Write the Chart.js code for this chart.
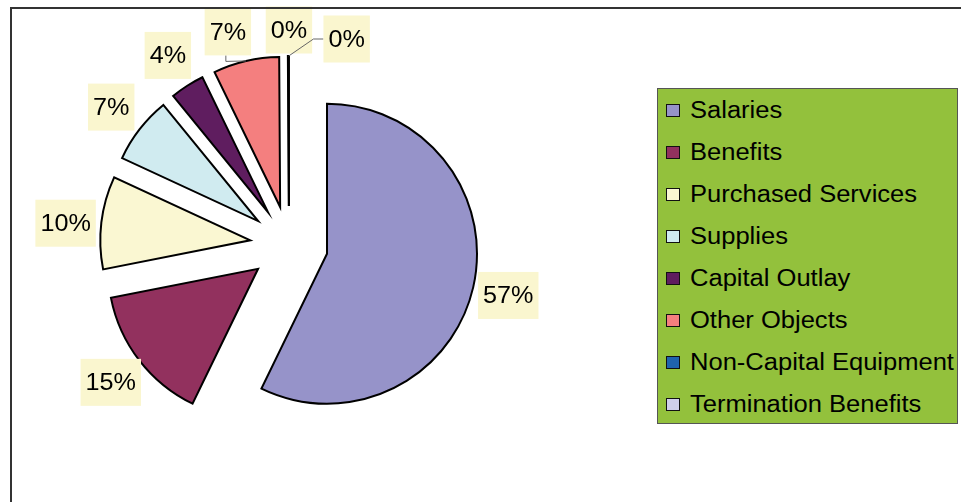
<!DOCTYPE html>
<html>
<head>
<meta charset="utf-8">
<title>Expenditures by Object</title>
<script src="https://cdn.jsdelivr.net/npm/chart.js@4.4.1/dist/chart.umd.min.js"></script>
<style>
  html, body { margin: 0; padding: 0; background: #fff; overflow: hidden; }
  #wrap { position: absolute; left: 0; top: 0; width: 961px; height: 502px; }
  #frame { position: absolute; left: 10px; top: 7px; width: 1000px; height: 600px;
           border-left: 2px solid #333; border-top: 2px solid #333; pointer-events: none; }
  #legend { position: absolute; left: 657px; top: 88px; width: 299px; height: 334px;
            background: #93C13C; border: 1px solid #555; }
  #legend .item { height: 42px; display: flex; align-items: center; }
  #legend .box { width: 12px; height: 11px; border: 1px solid #111; margin-left: 8px; margin-right: 10px; flex: none; }
  #legend .text { font: 23px "Liberation Sans", Arial, sans-serif; color: #000; display: inline-block;
                  transform: scaleX(1.11); transform-origin: left center; white-space: nowrap; }
</style>
</head>
<body>
<div id="wrap"><canvas id="objectPie" width="961" height="502"></canvas></div>
<div id="frame"></div>
<div id="legend"></div>
<script>
const categories = ['Salaries', 'Benefits', 'Purchased Services', 'Supplies', 'Capital Outlay',
                    'Other Objects', 'Non-Capital Equipment', 'Termination Benefits'];
const shares = [57.2, 14.7, 10.0, 7.2, 3.7, 7.1, 0.05, 0.05];
const sliceColors = ['#9693C9', '#92315E', '#FAF7D2', '#D0EBF0', '#5F1D5F', '#F47F7F', '#1F63AE', '#CFCFEA'];

const total = shares.reduce((a, b) => a + b, 0);
const pctLabels = shares.map(v => Math.round(v / total * 100) + '%');

// pull every slice out from the centre along its mid angle (Excel style exploded pie)
const explode = {
    id: 'explode',
    afterDatasetUpdate(chart, args, opts) {
        args.meta.data.forEach(arc => {
            const mid = (arc.startAngle + arc.endAngle) / 2;
            arc.x += Math.cos(mid) * opts.distance;
            arc.y += Math.sin(mid) * opts.distance;
        });
    }
};

// percentage labels on pale yellow boxes, with leader lines where a label was moved
const pieLabels = {
    id: 'pieLabels',
    afterDatasetsDraw(chart, args, opts) {
        const ctx = chart.ctx;
        const arcs = chart.getDatasetMeta(0).data;
        ctx.save();
        ctx.font = opts.font;
        ctx.textAlign = 'center';
        ctx.textBaseline = 'middle';
        arcs.forEach((arc, i) => {
            const mid = (arc.startAngle + arc.endAngle) / 2;
            const cos = Math.cos(mid), sin = Math.sin(mid);
            const nudge = opts.nudges[i] || [0, 0];
            const r = arc.outerRadius + opts.distance;
            const cx = arc.x + cos * r + nudge[0];
            const cy = arc.y + sin * r + nudge[1];
            const text = pctLabels[i];
            const w = ctx.measureText(text).width * opts.stretch + opts.padX * 2;
            const h = opts.boxHeight;

            const lead = opts.leaders[i];
            if (lead) {
                const ex = arc.x + cos * arc.outerRadius;
                const ey = arc.y + sin * arc.outerRadius;
                ctx.beginPath();
                if (lead === 'bottom') {
                    ctx.moveTo(cx - 2, cy + h / 2);
                    ctx.lineTo(cx - 2, cy + h / 2 + 6);
                } else {
                    ctx.moveTo(cx - w / 2, cy);
                    ctx.lineTo(cx - w / 2 - 10, cy);
                }
                ctx.lineTo(ex, ey);
                ctx.strokeStyle = opts.leaderColor;
                ctx.lineWidth = 1;
                ctx.stroke();
            }

            ctx.fillStyle = opts.boxColor;
            ctx.fillRect(cx - w / 2, cy - h / 2, w, h);
            ctx.fillStyle = '#000';
            ctx.save();
            ctx.translate(cx, cy + 1);
            ctx.scale(opts.stretch, 1);
            ctx.fillText(text, 0, 0);
            ctx.restore();
        });
        ctx.restore();
    }
};

const ctxPie = document.getElementById('objectPie');
const myChart = new Chart(ctxPie, {
    type: 'pie',
    data: {
        labels: categories,
        datasets: [{
            data: shares,
            backgroundColor: sliceColors,
            borderColor: '#000',
            borderWidth: 2,
            borderJoinStyle: 'miter'
        }]
    },
    options: {
        responsive: false,
        animation: false,
        events: [],
        radius: 150,
        layout: {
            padding: { left: 0, right: 383, top: 0, bottom: 12 }
        },
        plugins: {
            legend: { display: false },
            tooltip: { enabled: false },
            explode: { distance: 39 },
            pieLabels: {
                font: '24px "Liberation Sans", Arial, sans-serif',
                stretch: 1.05,
                padX: 5,
                boxHeight: 47,
                distance: 36,
                boxColor: '#FAF6CF',
                leaderColor: '#666',
                nudges: { 2: [0, 5], 5: [-10, 6], 6: [1, 10], 7: [58, 19] },
                leaders: { 5: 'bottom', 7: 'left' }
            }
        }
    },
    plugins: [explode, pieLabels]
});

// legend as html, built from the same arrays
const legendEl = document.getElementById('legend');
categories.forEach((name, i) => {
    const row = document.createElement('div');
    row.className = 'item';
    const box = document.createElement('span');
    box.className = 'box';
    box.style.background = sliceColors[i];
    const label = document.createElement('span');
    label.className = 'text';
    label.textContent = name;
    row.appendChild(box);
    row.appendChild(label);
    legendEl.appendChild(row);
});
</script>
</body>
</html>
